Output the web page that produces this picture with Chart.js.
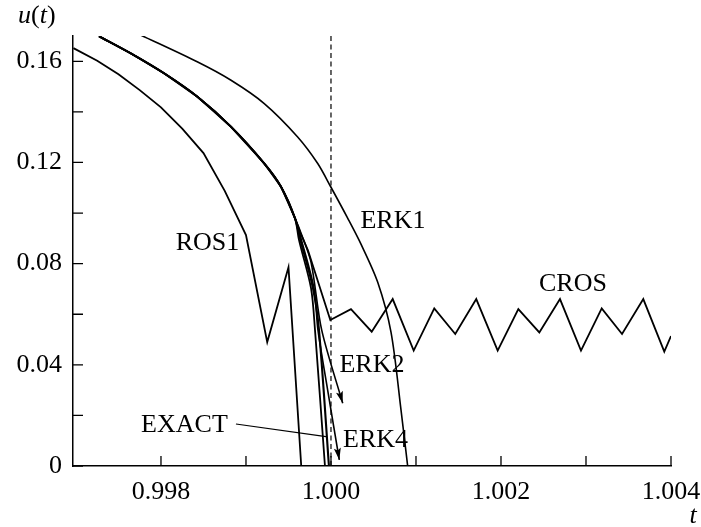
<!DOCTYPE html>
<html>
<head>
<meta charset="utf-8">
<script src="https://cdn.jsdelivr.net/npm/chart.js@4.4.0/dist/chart.umd.min.js"></script>
<style>
  html, body { margin: 0; padding: 0; background: #fff; }
  canvas { display: block; }
</style>
</head>
<body>
<canvas id="chart" width="701" height="527"></canvas>
<script>
// axis ticks
const xTicks = [0.998, 0.999, 1.000, 1.001, 1.002, 1.003, 1.004];
const xTickLabels = ["0.998", "", "1.000", "", "1.002", "", "1.004"];
const yTicks = [0, 0.02, 0.04, 0.06, 0.08, 0.10, 0.12, 0.14, 0.16];
const yTickLabels = ["0", "", "0.04", "", "0.08", "", "0.12", "", "0.16"];

// series (t, u)
const ros1T = [0.99697, 0.99725, 0.9975, 0.99775, 0.998, 0.99825, 0.9985, 0.99875, 0.999, 0.99925, 0.9995, 0.99965];
const ros1U = [0.1652, 0.1602, 0.1549, 0.1486, 0.1418, 0.1334, 0.1237, 0.1088, 0.0913, 0.0490, 0.0786, 0];

const erk1T = [0.997765, 0.998432, 0.998824, 0.999215, 0.999608, 0.999844, 1.0, 1.000196, 1.000353,
  1.000549, 1.000706, 1.000824, 1.000902];
const erk1U = [0.1703, 0.1597, 0.1525, 0.1433, 0.1301, 0.1196, 0.1102, 0.0980, 0.0877,
  0.0727, 0.0529, 0.0221, 0];

// common upper branch of EXACT, ERK2, ERK4, CROS
const bundleT = [0.997271, 0.997647, 0.998039, 0.998432, 0.998824, 0.999215, 0.999412, 0.999576];
const bundleU = [0.1699, 0.1631, 0.1552, 0.1459, 0.1341, 0.1196, 0.1104, 0.0980];

const exactT = [0.999641, 0.999788, 0.999859, 0.999976];
const exactU = [0.0893, 0.0703, 0.0537, 0];

const sideT = [0.999624, 0.999765, 0.999812, 0.999929];
const sideU = [0.0893, 0.0703, 0.0537, 0];

const erk4T = [0.999653, 0.9998, 0.999847, 0.999961, 1.000098];
const erk4U = [0.0893, 0.0703, 0.0537, 0.0300, 0.0024];

const erk2T = [0.999647, 0.999765, 0.999891, 1.000138];
const erk2U = [0.0921, 0.0806, 0.0537, 0.0248];

const crosT = [0.999641, 0.999729, 0.999992,
  1.000235, 1.000479, 1.000726, 1.000973, 1.001215, 1.001462, 1.001709, 1.001961, 1.002204,
  1.002451, 1.002694, 1.002941, 1.003185, 1.003424, 1.003674, 1.003921, 1.004];
const crosU = [0.0921, 0.0853, 0.0577,
  0.0620, 0.0531, 0.0660, 0.0456, 0.0623, 0.0522, 0.0660, 0.0456, 0.0620,
  0.0528, 0.0660, 0.0456, 0.0623, 0.0522, 0.0660, 0.0452, 0.0514];

// dashed marker at t = 1 and the EXACT pointer
const markT = [1.0, 1.0];
const markU = [0, 0.17];
const pointerT = [0.998882, 0.999941];
const pointerU = [0.0166, 0.0116];

// curve names placed on the plot (centre t, baseline u)
const annoText = ["ROS1", "ERK1", "CROS", "ERK2", "ERK4", "EXACT"];
const annoT = [0.998547, 1.000729, 1.002847, 1.000482, 1.000524, 0.998276];
const annoU = [0.0853, 0.0940, 0.0691, 0.0371, 0.0075, 0.0134];

const arrowSeries = ["ERK2", "ERK4"];

const FONT = "'Liberation Serif', 'Times New Roman', serif";

const toPoints = (ts, us) => ts.map((t, i) => ({ x: t, y: us[i] }));
const withBundle = (ts, us) => toPoints(bundleT.concat(ts), bundleU.concat(us));

const line = (label, points, width, tension) => ({
  label: label,
  data: points,
  borderColor: "#000",
  borderWidth: width,
  pointRadius: 0,
  fill: false,
  tension: tension,
});

const inwardTicks = {
  id: "inwardTicks",
  afterDraw(chart) {
    const { ctx, chartArea, scales } = chart;
    ctx.save();
    ctx.strokeStyle = "#000";
    ctx.lineWidth = 1.3;
    ctx.beginPath();
    scales.x.ticks.forEach((t) => {
      const px = scales.x.getPixelForValue(t.value);
      ctx.moveTo(px, chartArea.bottom);
      ctx.lineTo(px, chartArea.bottom - 10);
    });
    scales.y.ticks.forEach((t) => {
      const py = scales.y.getPixelForValue(t.value);
      ctx.moveTo(chartArea.left, py);
      ctx.lineTo(chartArea.left + 10, py);
    });
    ctx.stroke();
    ctx.restore();
  },
};

const arrowHeads = {
  id: "arrowHeads",
  afterDatasetsDraw(chart) {
    const ctx = chart.ctx;
    chart.data.datasets.forEach((ds, i) => {
      if (!arrowSeries.includes(ds.label)) return;
      const pts = chart.getDatasetMeta(i).data;
      const tip = pts[pts.length - 1];
      const prev = pts[pts.length - 2];
      const ang = Math.atan2(tip.y - prev.y, tip.x - prev.x);
      const len = 12, half = 3.5;
      ctx.save();
      ctx.translate(tip.x, tip.y);
      ctx.rotate(ang);
      ctx.fillStyle = "#000";
      ctx.beginPath();
      ctx.moveTo(0, 0);
      ctx.lineTo(-len, -half);
      ctx.lineTo(-len * 0.8, 0);
      ctx.lineTo(-len, half);
      ctx.closePath();
      ctx.fill();
      ctx.restore();
    });
  },
};

const labels = {
  id: "labels",
  afterDraw(chart) {
    const { ctx, chartArea, scales } = chart;
    ctx.save();
    ctx.fillStyle = "#000";
    ctx.textBaseline = "alphabetic";
    ctx.font = "26px " + FONT;
    ctx.textAlign = "center";
    annoText.forEach((txt, i) => {
      ctx.fillText(txt, scales.x.getPixelForValue(annoT[i]), scales.y.getPixelForValue(annoU[i]));
    });

    // u(t) over the y axis
    ctx.textAlign = "left";
    let x = chartArea.left - 55;
    const y = chartArea.top - 13;
    const parts = [["u", "italic "], ["(", ""], ["t", "italic "], [")", ""]];
    parts.forEach(([s, style]) => {
      ctx.font = style + "26px " + FONT;
      ctx.fillText(s, x, y);
      x += ctx.measureText(s).width;
    });

    // t under the right end of the x axis
    ctx.font = "italic 26px " + FONT;
    ctx.textAlign = "center";
    ctx.fillText("t", chartArea.right + 22, chartArea.bottom + 57);
    ctx.restore();
  },
};

new Chart(document.getElementById("chart"), {
  type: "line",
  data: {
    datasets: [
      line("ROS1", toPoints(ros1T, ros1U), 1.8, 0),
      line("ERK1", toPoints(erk1T, erk1U), 1.6, 0.3),
      line("EXACT", withBundle(exactT, exactU), 2.1, 0.3),
      line("", withBundle(sideT, sideU), 1.8, 0.3),
      line("ERK4", withBundle(erk4T, erk4U), 1.6, 0.3),
      line("ERK2", withBundle(erk2T, erk2U), 1.6, 0.3),
      line("CROS", withBundle(crosT, crosU), 1.8, 0),
      Object.assign(line("mark", toPoints(markT, markU), 1.2, 0), { borderDash: [5, 3.5] }),
      line("pointer", toPoints(pointerT, pointerU), 1.2, 0),
    ],
  },
  options: {
    responsive: false,
    animation: false,
    devicePixelRatio: 1,
    layout: { padding: { top: 36, right: 30, bottom: 0, left: 0 } },
    plugins: {
      legend: { display: false },
      tooltip: { enabled: false },
    },
    scales: {
      x: {
        type: "linear",
        min: 0.996965,
        max: 1.004,
        grid: { display: false, drawTicks: false },
        border: { display: true, color: "#000", width: 1.5 },
        afterBuildTicks: (scale) => { scale.ticks = xTicks.map((v) => ({ value: v })); },
        afterFit: (scale) => { scale.height = 61; scale.paddingLeft = 0; scale.paddingRight = 0; },
        ticks: {
          autoSkip: false,
          maxRotation: 0,
          padding: 11,
          color: "#000",
          font: { family: FONT, size: 26 },
          callback: (value, index) => xTickLabels[index],
        },
      },
      y: {
        min: 0,
        max: 0.17,
        grid: { display: false, drawTicks: false },
        border: { display: true, color: "#000", width: 1.5 },
        afterBuildTicks: (scale) => { scale.ticks = yTicks.map((v) => ({ value: v })); },
        afterFit: (scale) => { scale.width = 73; scale.paddingTop = 0; scale.paddingBottom = 0; },
        ticks: {
          autoSkip: false,
          padding: 11,
          color: "#000",
          font: { family: FONT, size: 26 },
          callback: (value, index) => yTickLabels[index],
        },
      },
    },
  },
  plugins: [inwardTicks, arrowHeads, labels],
});
</script>
</body>
</html>
